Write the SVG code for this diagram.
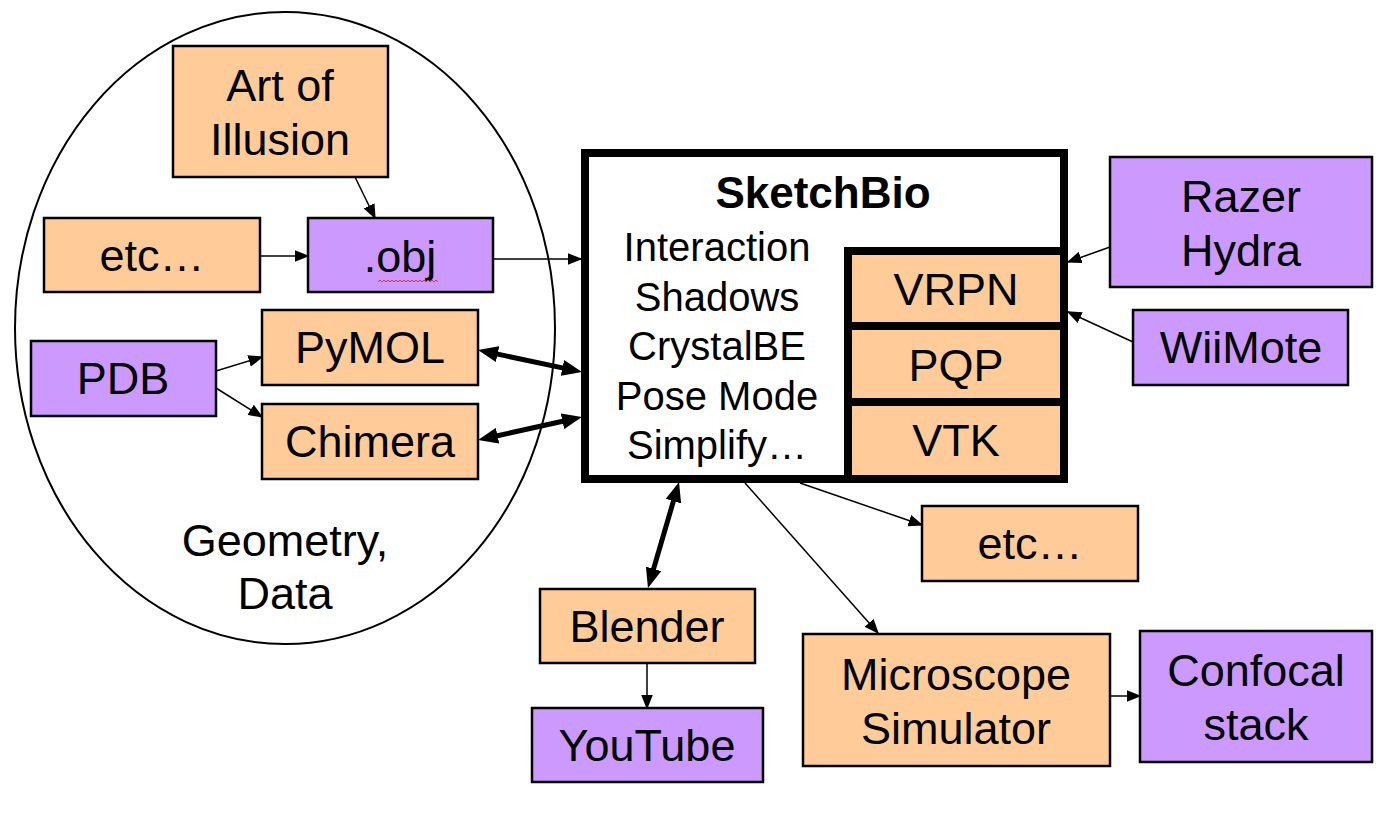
<svg xmlns="http://www.w3.org/2000/svg" width="1385" height="825" viewBox="0 0 1385 825">
<style>
text{font-family:"Liberation Sans",Arial,sans-serif;font-size:45px;fill:#000;text-anchor:middle}
.f{font-size:40px}
.b{font-weight:bold;font-size:44px}
.p{fill:#FFCC99;stroke:#000;stroke-width:2.5}
.v{fill:#CC99FF;stroke:#000;stroke-width:2.5}
.t{stroke:#000;stroke-width:1.5;fill:none;marker-end:url(#ah)}
.k{stroke:#000;stroke-width:5;fill:none;marker-end:url(#bh);marker-start:url(#bh)}
</style>
<defs>
<marker id="ah" markerUnits="userSpaceOnUse" markerWidth="15" markerHeight="12" refX="13.5" refY="6" orient="auto" viewBox="0 0 15 12"><path d="M0,0 L15,6 L0,12 z" fill="#000"/></marker>
<marker id="bh" markerUnits="userSpaceOnUse" markerWidth="20" markerHeight="16" refX="6" refY="8" orient="auto-start-reverse" viewBox="0 0 20 16"><path d="M0,0 L20,8 L0,16 z" fill="#000"/></marker>
</defs>
<rect width="1385" height="825" fill="#fff"/>
<ellipse cx="285" cy="328" rx="270" ry="316" fill="none" stroke="#000" stroke-width="2"/>
<text x="285" y="556">Geometry,</text>
<text x="285" y="609">Data</text>

<g id="art"><rect class="p" x="173" y="46" width="215" height="131"/><text x="280" y="101">Art of</text><text x="280" y="155">Illusion</text></g>
<g id="etc1"><rect class="p" x="44" y="218" width="216" height="74"/><text x="152" y="271">etc…</text></g>
<g id="obj"><rect class="v" x="308" y="218" width="185" height="74"/><text x="400" y="272">.obj</text><path d="M378,282 l2,-2 2,2 2,-2 2,2 2,-2 2,2 2,-2 2,2 2,-2 2,2 2,-2 2,2 2,-2 2,2 2,-2 2,2 2,-2 2,2 2,-2 2,2 2,-2 2,2 2,-2 2,2 2,-2 2,2 2,-2 2,2 2,-2 2,2" fill="none" stroke="#e03030" stroke-width="1"/></g>
<g id="pdb"><rect class="v" x="31" y="341" width="185" height="75"/><text x="123" y="394">PDB</text></g>
<g id="pymol"><rect class="p" x="262" y="310" width="216" height="75"/><text x="370" y="363">PyMOL</text></g>
<g id="chimera"><rect class="p" x="262" y="404" width="216" height="75"/><text x="370" y="457">Chimera</text></g>

<g id="sketchbio">
<rect x="585" y="153" width="479" height="326" fill="#fff" stroke="#000" stroke-width="8"/>
<text class="b" x="823" y="208">SketchBio</text>
<text class="f" x="717" y="261">Interaction</text>
<text class="f" x="717" y="311">Shadows</text>
<text class="f" x="717" y="360">CrystalBE</text>
<text class="f" x="717" y="410">Pose Mode</text>
<text class="f" x="717" y="459">Simplify…</text>
<g id="vrpn"><rect x="848" y="251" width="216" height="75" fill="#FFCC99" stroke="#000" stroke-width="8"/><text x="956" y="305">VRPN</text></g>
<g id="pqp"><rect x="848" y="326" width="216" height="76" fill="#FFCC99" stroke="#000" stroke-width="8"/><text x="956" y="381">PQP</text></g>
<g id="vtk"><rect x="848" y="402" width="216" height="77" fill="#FFCC99" stroke="#000" stroke-width="8"/><text x="956" y="456">VTK</text></g>
</g>

<g id="razer"><rect class="v" x="1110" y="157" width="262" height="130"/><text x="1241" y="212">Razer</text><text x="1241" y="266">Hydra</text></g>
<g id="wiimote"><rect class="v" x="1133" y="310" width="215" height="75"/><text x="1241" y="363">WiiMote</text></g>
<g id="etc2"><rect class="p" x="922" y="506" width="216" height="75"/><text x="1030" y="559">etc…</text></g>
<g id="blender"><rect class="p" x="540" y="589" width="215" height="74"/><text x="647" y="642">Blender</text></g>
<g id="youtube"><rect class="v" x="532" y="708" width="231" height="74"/><text x="647" y="761">YouTube</text></g>
<g id="microscope"><rect class="p" x="803" y="634" width="307" height="132"/><text x="956" y="690">Microscope</text><text x="956" y="744">Simulator</text></g>
<g id="confocal"><rect class="v" x="1140" y="631" width="232" height="131"/><text x="1256" y="686">Confocal</text><text x="1256" y="740">stack</text></g>

<g id="connectors">
<line class="t" x1="355" y1="177" x2="375" y2="218"/>
<line class="t" x1="260" y1="256" x2="308" y2="256"/>
<line class="t" x1="493" y1="259" x2="581" y2="259"/>
<line class="t" x1="216" y1="371" x2="262" y2="357"/>
<line class="t" x1="216" y1="388" x2="262" y2="417"/>
<line class="t" x1="1110" y1="247" x2="1068" y2="262"/>
<line class="t" x1="1133" y1="342" x2="1068" y2="312"/>
<line class="t" x1="800" y1="483" x2="922" y2="525"/>
<line class="t" x1="745" y1="483" x2="878" y2="633"/>
<line class="t" x1="647" y1="663" x2="647" y2="708"/>
<line class="t" x1="1110" y1="696" x2="1140" y2="696"/>
<line class="k" x1="491.7" y1="352.9" x2="568.3" y2="369.1"/>
<line class="k" x1="491.7" y1="437" x2="568.3" y2="420"/>
<line class="k" x1="675.1" y1="495.4" x2="651.9" y2="574.6"/>
</g>
</svg>
